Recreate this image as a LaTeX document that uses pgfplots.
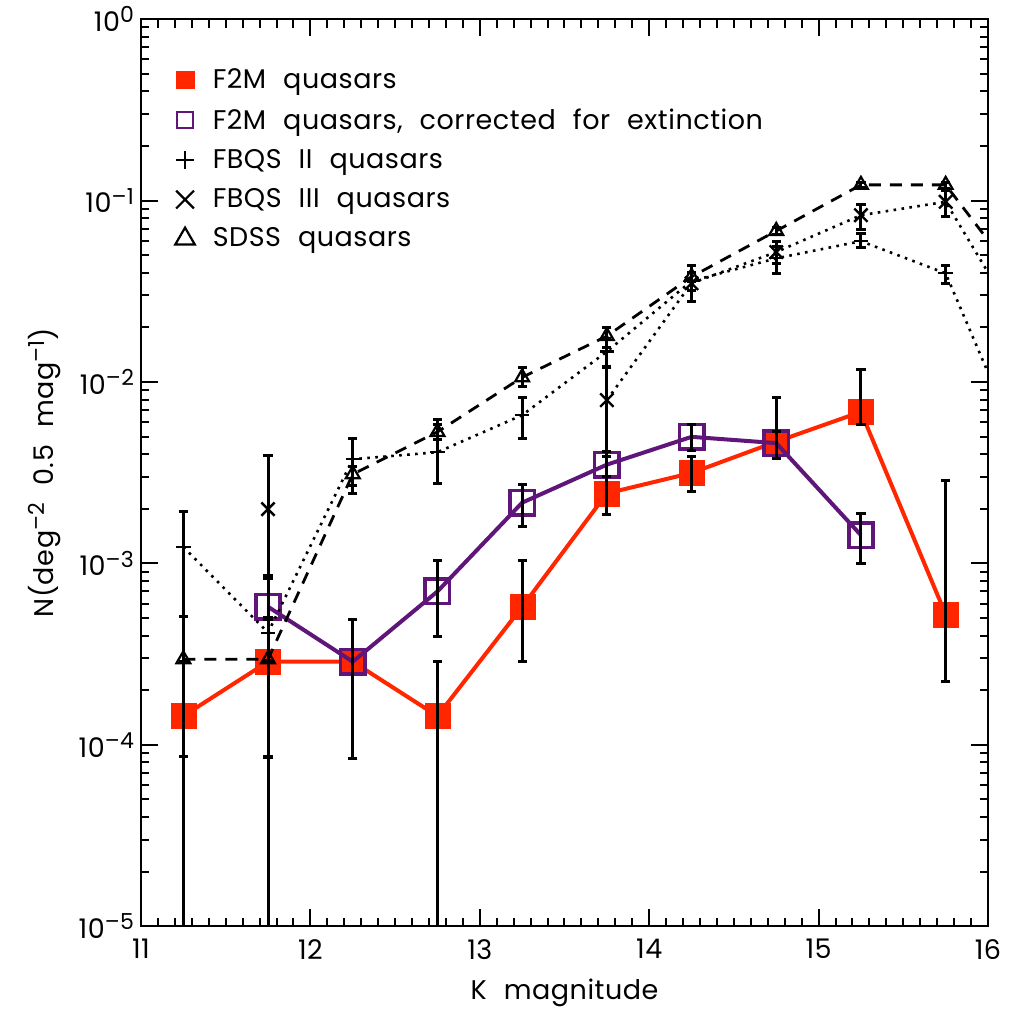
\documentclass[border=0pt]{standalone}
\usepackage{pgfplots}
\pgfplotsset{compat=1.18}
\usepackage{fontspec}
\setmainfont{Poppins}[WordSpace=2.2, LetterSpace=2]
\definecolor{fred}{RGB}{255,38,0}
\definecolor{fpurple}{RGB}{95,22,120}
\newcommand\sups[1]{\raisebox{4.4pt}{\fontsize{11}{11}\selectfont #1}}

\pgfplotstableread{
x y
11.25 1.44e-4
11.75 2.87e-4
12.25 2.87e-4
12.75 1.44e-4
13.25 5.76e-4
13.75 2.43e-3
14.25 3.15e-3
14.75 4.68e-3
15.25 6.84e-3
15.75 5.23e-4
}\redtab

\pgfplotstableread{
x y
11.75 5.76e-4
12.25 2.87e-4
12.75 7.0e-4
13.25 2.16e-3
13.75 3.5e-3
14.25 4.98e-3
14.75 4.6e-3
15.25 1.43e-3
}\purtab

\pgfplotstableread{
x y
11.25 1.23e-3
11.75 4.15e-4
12.25 3.75e-3
12.75 4.1e-3
13.25 6.56e-3
13.75 1.47e-2
14.25 3.6e-2
14.75 4.8e-2
15.25 5.97e-2
15.75 3.97e-2
16.25 3.2e-3
}\fbqsii

\pgfplotstableread{
x y
11.75 1.99e-3
12.25 nan
12.75 nan
13.25 nan
13.75 7.94e-3
14.25 3.5e-2
14.75 5.2e-2
15.25 8.3e-2
15.75 9.84e-2
16.25 1.64e-2
}\fbqsiii

\pgfplotstableread{
x y
11.25 2.96e-4
11.75 2.96e-4
12.25 3.1e-3
12.75 5.3e-3
13.25 1.06e-2
13.75 1.79e-2
14.25 3.8e-2
14.75 6.8e-2
15.25 0.122
15.75 0.122
16.25 3.0e-2
}\sdss

\begin{document}
\begin{tikzpicture}
\begin{axis}[
  scale only axis, width=423.5pt, height=453.5pt,
  xmin=11, xmax=16, ymode=log, ymin=1e-5, ymax=1,
  clip marker paths=true,
  unbounded coords=jump,
  xtick={11,12,13,14,15,16}, xticklabels={11,12,13,14,15,16},
  minor x tick num=9,
  ytick={1e-5,1e-4,1e-3,1e-2,1e-1,1},
  yticklabels={10\sups{–5},10\sups{–4},10\sups{–3},10\sups{–2},10\sups{–1},10\sups{0}},
  minor ytick={2e-5,3e-5,4e-5,5e-5,6e-5,7e-5,8e-5,9e-5,
               2e-4,3e-4,4e-4,5e-4,6e-4,7e-4,8e-4,9e-4,
               2e-3,3e-3,4e-3,5e-3,6e-3,7e-3,8e-3,9e-3,
               2e-2,3e-2,4e-2,5e-2,6e-2,7e-2,8e-2,9e-2,
               2e-1,3e-1,4e-1,5e-1,6e-1,7e-1,8e-1,9e-1},
  xtick pos=both, ytick pos=both,
  xticklabel pos=left, yticklabel pos=left,
  tick align=inside,
  major tick length=8.5pt, minor tick length=4.2pt,
  every tick/.append style={line width=1pt, black},
  axis line style={line width=1.3pt},
  tick label style={font=\fontsize{13.5}{15}\selectfont},
  xticklabel style={yshift=-3pt},
  xlabel={K magnitude},
  xlabel style={yshift=-3pt},
  ylabel={N(deg\sups{–2} 0.5 mag\sups{–1})},
  ylabel style={yshift=2pt},
  label style={font=\fontsize{13.5}{15}\selectfont},
  legend style={at={(0.033,0.955)}, anchor=north west, draw=none, fill=none,
                font=\fontsize{13.5}{15}\selectfont, row sep=4.6pt},
  legend cell align=left,
]
\addlegendimage{only marks, mark=square*, mark size=4.4pt, mark options={fred, fill=fred, line width=0.1pt}}
\addlegendentry{\hspace{7pt}F2M quasars}
\addlegendimage{only marks, mark=square, mark size=4.1pt, mark options={fpurple, line width=1pt}}
\addlegendentry{\hspace{7pt}F2M quasars, corrected for extinction}
\addlegendimage{only marks, mark=+, mark size=4.5pt, mark options={black, line width=1.1pt}}
\addlegendentry{\hspace{7pt}FBQS II quasars}
\addlegendimage{only marks, mark=x, mark size=6.3pt, mark options={black, line width=1.1pt}}
\addlegendentry{\hspace{7pt}FBQS III quasars}
\addlegendimage{only marks, mark=triangle, mark size=5.6pt, mark options={black, line width=1.1pt}}
\addlegendentry{\hspace{7pt}SDSS quasars}

% F2M
\addplot[forget plot, fred, line width=2pt, mark=square*, mark size=6.25pt,
  mark options={fred, fill=fred, line width=0.1pt}] table {\redtab};
% F2M corrected
\addplot[forget plot, fpurple, line width=2pt, mark=square, mark size=6.1pt,
  mark options={fpurple, line width=1.75pt}] table {\purtab};
% FBQS II
\addplot[forget plot, black, line width=1.3pt, dash pattern=on 1.3pt off 2.7pt,
  mark=+, mark size=3.6pt, mark options={solid, line width=1.1pt}] table {\fbqsii};
% FBQS III
\addplot[forget plot, black, line width=1.3pt, dash pattern=on 1.3pt off 2.7pt,
  mark=x, mark size=4.7pt, mark options={solid, line width=1.2pt}] table {\fbqsiii};
% SDSS
\addplot[forget plot, black, line width=1.4pt, dash pattern=on 6pt off 4.5pt,
  mark=triangle, mark size=4pt, mark options={solid, line width=1.1pt}] table {\sdss};

% error bars
\pgfplotsset{errbar/.style={forget plot, black, line width=1.5pt, mark=-, mark size=2.3pt, mark options={line width=1.5pt}}}
\addplot[errbar] coordinates {
(11.25,1e-6) (11.25,2.88e-4) (11.25,nan)
(11.75,8.5e-5) (11.75,4.9e-4) (11.75,nan)
(12.25,8.4e-5) (12.25,4.9e-4) (12.25,nan)
(12.75,1e-6) (12.75,2.87e-4) (12.75,nan)
(13.25,2.89e-4) (13.25,1.04e-3) (13.25,nan)
(13.75,1.86e-3) (13.75,3.0e-3) (13.75,nan)
(14.25,2.48e-3) (14.25,3.9e-3) (14.25,nan)
(14.75,3.8e-3) (14.75,8.17e-3) (14.75,nan)
(15.25,5.83e-3) (15.25,1.17e-2) (15.25,nan)
(15.75,2.23e-4) (15.75,2.87e-3)
};
\addplot[errbar] coordinates {
(11.75,2.9e-4) (11.75,8.6e-4) (11.75,nan)
(12.25,8.4e-5) (12.25,4.9e-4) (12.25,nan)
(12.75,3.97e-4) (12.75,1.04e-3) (12.75,nan)
(13.25,1.59e-3) (13.25,2.72e-3) (13.25,nan)
(13.75,3.0e-3) (13.75,4.12e-3) (13.75,nan)
(14.25,4.17e-3) (14.25,5.85e-3) (14.25,nan)
(14.75,3.79e-3) (14.75,5.36e-3) (14.75,nan)
(15.25,1.0e-3) (15.25,1.88e-3)
};
\addplot[errbar] coordinates {
(11.25,5.07e-4) (11.25,1.94e-3) (11.25,nan)
(11.75,1e-6) (11.75,8.3e-4) (11.75,nan)
(12.25,2.43e-3) (12.25,4.88e-3) (12.25,nan)
(12.75,2.77e-3) (12.75,6.2e-3) (12.75,nan)
(13.25,4.88e-3) (13.25,8.2e-3) (13.25,nan)
(13.75,1.21e-2) (13.75,1.74e-2) (13.75,nan)
(14.25,3.2e-2) (14.25,4.0e-2) (14.25,nan)
(14.75,3.97e-2) (14.75,5.6e-2) (14.75,nan)
(15.25,5.49e-2) (15.25,6.55e-2) (15.25,nan)
(15.75,3.49e-2) (15.75,4.4e-2)
};
\addplot[errbar] coordinates {
(11.75,1e-6) (11.75,3.95e-3) (11.75,nan)
(13.75,3.9e-3) (13.75,1.2e-2) (13.75,nan)
(14.25,2.77e-2) (14.25,4.4e-2) (14.25,nan)
(14.75,4.5e-2) (14.75,5.92e-2) (14.75,nan)
(15.25,6.95e-2) (15.25,9.5e-2) (15.25,nan)
(15.75,8.2e-2) (15.75,1.14e-1)
};
\addplot[errbar] coordinates {
(11.25,8.57e-5) (11.25,5.07e-4) (11.25,nan)
(11.75,8.57e-5) (11.75,5.0e-4) (11.75,nan)
(12.25,2.7e-3) (12.25,3.4e-3) (12.25,nan)
(12.75,4.8e-3) (12.75,5.8e-3) (12.75,nan)
(13.25,9.4e-3) (13.25,1.2e-2) (13.25,nan)
(13.75,1.55e-2) (13.75,1.99e-2) (13.75,nan)
(14.25,3.6e-2) (14.25,4.0e-2) (14.25,nan)
(14.75,6.5e-2) (14.75,7.1e-2) (14.75,nan)
(15.25,0.118) (15.25,0.126) (15.25,nan)
(15.75,0.117) (15.75,0.125)
};
\end{axis}
\path (current axis.south west) ++(-70.5pt,-42.5pt) rectangle ([shift={(13pt,7pt)}]current axis.north east);
\end{tikzpicture}
\end{document}
